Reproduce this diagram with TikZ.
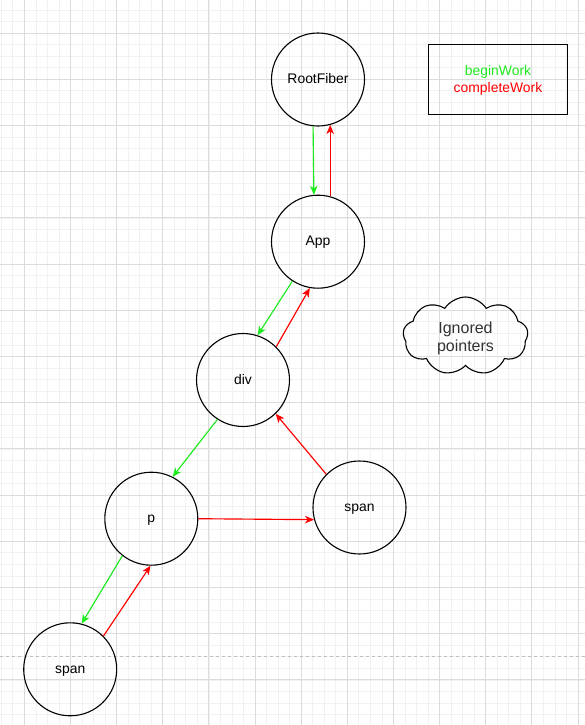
\documentclass[tikz,border=0pt]{standalone}
\usepackage{fontspec}
\setmainfont{Liberation Sans}
\usetikzlibrary{arrows.meta,shapes.symbols}
\definecolor{gminor}{RGB}{241,241,241}
\definecolor{gmajor}{RGB}{220,220,220}
\definecolor{pageline}{RGB}{190,190,190}
\definecolor{bw}{RGB}{30,235,30}
\definecolor{cw}{RGB}{255,0,0}
\definecolor{cloudtext}{RGB}{51,51,51}
\tikzset{
  fib/.style={circle,draw=black,line width=1.1pt,minimum size=93pt,inner sep=0pt,
    text height=11pt,text depth=2.5pt,font=\fontsize{13.9}{16}\selectfont},
  tip/.style={-{Stealth[length=9pt,width=7.5pt,inset=2.5pt]}},
  beginarrow/.style={draw=bw,line width=1.15pt,tip},
  completearrow/.style={draw=cw,line width=1.15pt,tip},
  minorline/.style={draw=gminor,line width=0.8pt},
  majorline/.style={draw=gmajor,line width=0.9pt},
}
\begin{document}
\begin{tikzpicture}[x=1pt,y=1pt]
\useasboundingbox (0,0) rectangle (585,-725);
\fill[white] (0,0) rectangle (585,-725);
% grid
\foreach \k in {-2,...,49}{\pgfmathsetmacro\xx{24.4+11.533*\k}\draw[minorline] (\xx,0) -- (\xx,-725);}
\foreach \k in {-3,...,60}{\pgfmathsetmacro\yy{33.1+11.55*\k}\draw[minorline] (0,-\yy) -- (585,-\yy);}
\foreach \k in {0,...,12}{\pgfmathsetmacro\xx{24.4+46.13*\k}\draw[majorline] (\xx,0) -- (\xx,-725);}
\foreach \k in {0,...,15}{\pgfmathsetmacro\yy{33.1+46.2*\k}\draw[majorline] (0,-\yy) -- (585,-\yy);}
\draw[pageline,line width=0.9pt,dash pattern=on 3pt off 3pt] (0,-656) -- (585,-656);

% nodes
\node[fib] (root) at (318,-79.5) {RootFiber};
\node[fib] (app) at (318,-241.7) {App};
\node[fib] (div) at (243,-380) {div};
\node[fib] (p) at (151.3,-518.7) {p};
\node[fib] (spanr) at (359.5,-507.5) {span};
\node[fib] (spanb) at (70.2,-669.3) {span};

\node[draw=black,line width=1.3pt,minimum width=139.4pt,minimum height=70pt,inner sep=0pt,
  font=\fontsize{13.9}{16.7}\selectfont] (legend) at (498,-79.3)
  {\raisebox{-12.7pt}[0pt][0pt]{\begin{tabular}[b]{@{}c@{}}\textcolor{bw}{beginWork}\\\textcolor{cw}{completeWork}\end{tabular}}};

\node[cloud,draw=black,cloud puffs=9,cloud puff arc=115,aspect=1.6,minimum width=125pt,
  minimum height=78pt,inner sep=0pt,line width=1.1pt,
  font=\fontsize{16}{18}\selectfont,text=cloudtext] (cloud) at (465.5,-336)
  {\raisebox{-15pt}[0pt][0pt]{\begin{tabular}[b]{@{}c@{}}Ignored\\pointers\end{tabular}}};

% connectors
\draw[beginarrow] (root.264.5) -- (app.95.5);
\draw[completearrow] (app.75) -- (root.285);
\draw[beginarrow] (app.237) -- (div.72);
\draw[completearrow] (div.45) -- (app.260);
\draw[beginarrow] (div.237) -- (p.63);
\draw[completearrow] (spanr.135) -- (div.314);
\draw[completearrow] (p.0) -- (spanr.195);
\draw[beginarrow] (p.232) -- (spanb.76);
\draw[completearrow] (spanb.45) -- (p.269);
\end{tikzpicture}
\end{document}
